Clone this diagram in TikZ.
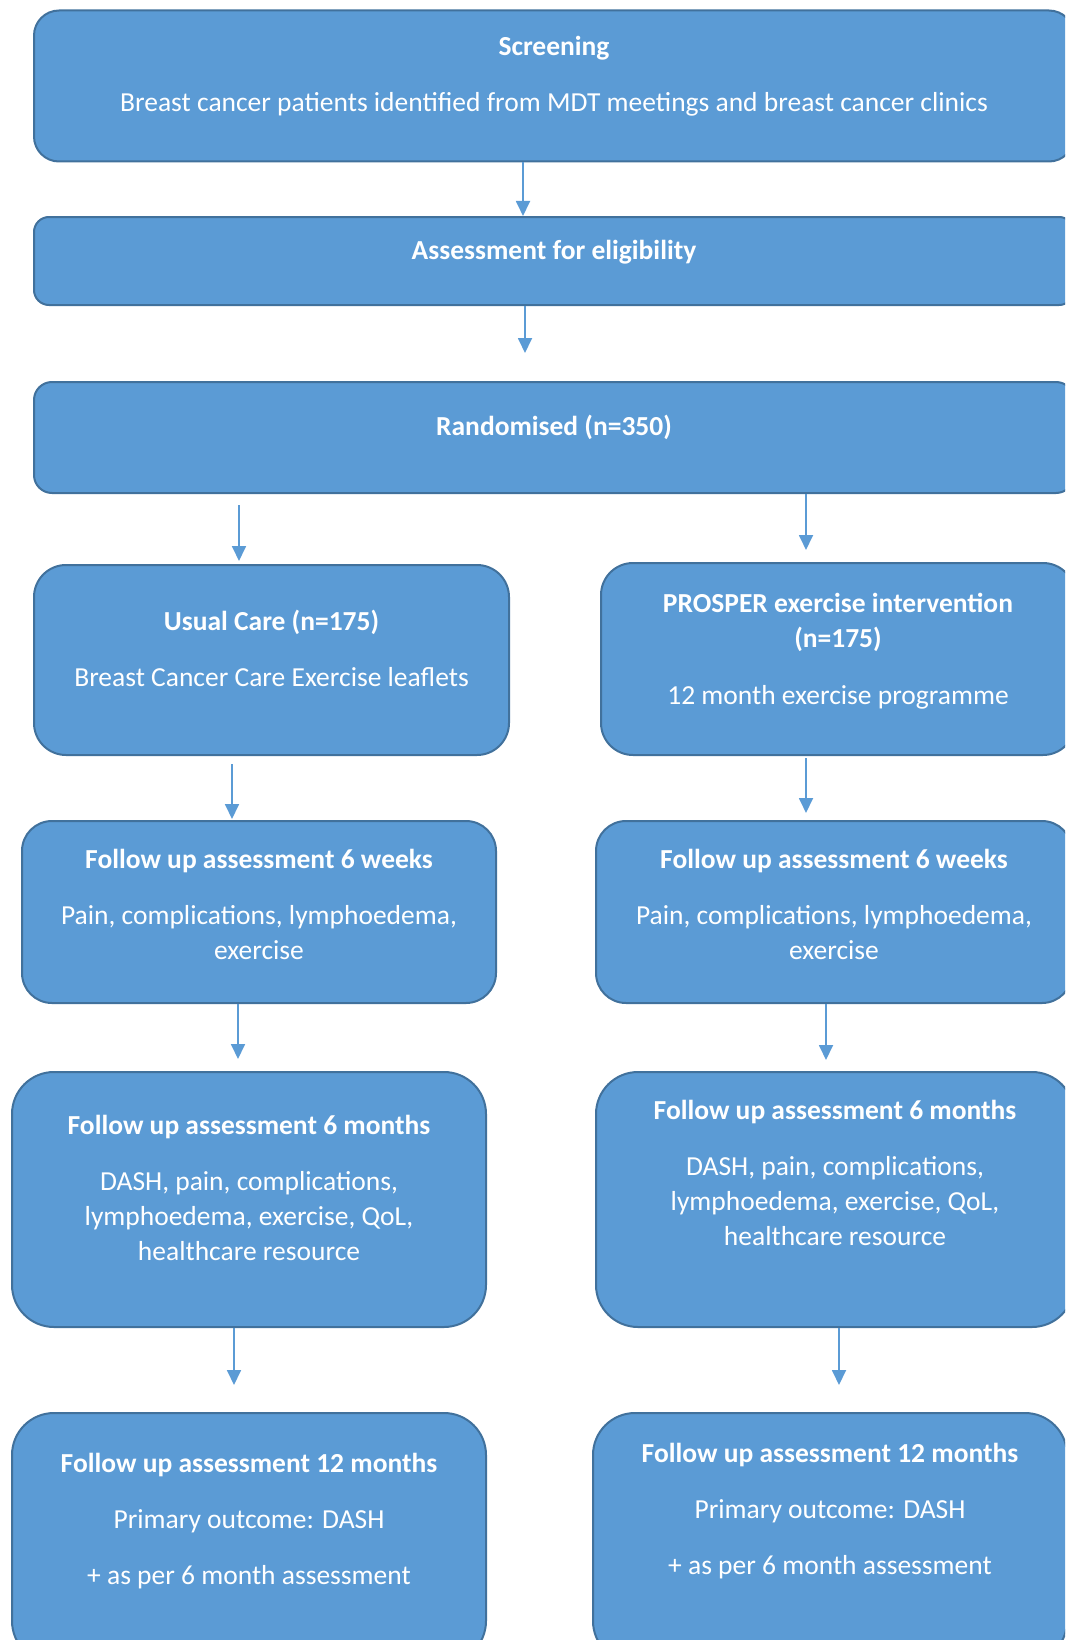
\documentclass[tikz,border=0pt]{standalone}
\usepackage{fontspec}
\setmainfont{Carlito}
\usetikzlibrary{arrows.meta}
\definecolor{boxfill}{HTML}{5B9BD5}
\definecolor{boxline}{HTML}{41719C}
\tikzset{box/.style={draw=boxline, fill=boxfill, line width=2pt, rounded corners=#1, inner sep=0pt},
  box/.default=30pt,
  txt/.style={text=white, align=center, inner sep=0pt, anchor=base, font=\fontsize{27.5}{35}\selectfont},
  arr/.style={draw=boxfill, line width=1.8pt, -{Triangle[length=15pt,width=14pt]}}}

\begin{document}
\begin{tikzpicture}[x=1pt,y=-1pt]
      \useasboundingbox (0,0) rectangle (1065,1640);
      \clip (0,0) rectangle (1065,1640);

      % boxes
      \node[box=25pt, minimum width=1040, minimum height=151] (scr) at (554,86) {};
      \node[box=15pt, minimum width=1040, minimum height=88] (elig) at (554,261) {};
      \node[box=18pt, minimum width=1040, minimum height=111] (rand) at (554,437.5) {};
      \node[box=32pt, minimum width=475, minimum height=190] (uc) at (271.5,660) {};
      \node[box=32pt, minimum width=474, minimum height=192] (px) at (838,659) {};
      \node[box, minimum width=474, minimum height=182] (w6l) at (259,912) {};
      \node[box, minimum width=476, minimum height=182] (w6r) at (834,912) {};
      \node[box=42pt, minimum width=474, minimum height=255] (m6l) at (249,1199.5) {};
      \node[box=42pt, minimum width=478, minimum height=255] (m6r) at (835,1199.5) {};
      \node[box=42pt, minimum width=474, minimum height=250] (m12l) at (249,1538) {};
      \node[box=42pt, minimum width=474, minimum height=250] (m12r) at (830,1538) {};

      % texts (base = last line)
      \node[txt] (scr-t) at (scr.center |- 0,112) {\textbf{Screening}\\[21pt]
        Breast cancer patients identified from MDT meetings and breast cancer clinics};
      \node[txt] (elig-t) at (elig.center |- 0,259) {\textbf{Assessment for eligibility}};
      \node[txt] (rand-t) at (rand.center |- 0,435) {\textbf{Randomised (n=350)}};
      \node[txt] (uc-t) at (uc.center |- 0,686) {\textbf{Usual Care (n=175)}\\[21pt]
        Breast Cancer Care Exercise leaflets};
      \node[txt] (px-t) at (px.center |- 0,704) {\textbf{PROSPER exercise intervention}\\
        \textbf{(n=175)}\\[22pt]12 month exercise programme};
      \node[txt] (w6l-t) at (w6l.center |- 0,959) {\textbf{Follow up assessment 6 weeks}\\[21pt]
        Pain, complications, lymphoedema,\\exercise};
      \node[txt] (w6r-t) at (w6r.center |- 0,959) {\textbf{Follow up assessment 6 weeks}\\[21pt]
        Pain, complications, lymphoedema,\\exercise};
      \node[txt] (m6l-t) at (m6l.center |- 0,1260) {\textbf{Follow up assessment 6 months}\\[21pt]
        DASH, pain, complications,\\lymphoedema, exercise, QoL,\\healthcare resource};
      \node[txt] (m6r-t) at (m6r.center |- 0,1245) {\textbf{Follow up assessment 6 months}\\[21pt]
        DASH, pain, complications,\\lymphoedema, exercise, QoL,\\healthcare resource};
      \node[txt] (m12l-t) at (m12l.center |- 0,1584) {\textbf{Follow up assessment 12 months}\\[21pt]
        Primary outcome: DASH\\[21pt]+ as per 6 month assessment};
      \node[txt] (m12r-t) at (m12r.center |- 0,1574) {\textbf{Follow up assessment 12 months}\\[21pt]
        Primary outcome: DASH\\[21pt]+ as per 6 month assessment};

      % arrows
      \draw[arr] (scr.south -| 523,0) -- (elig.north -| 523,0);
      \draw[arr, shorten >=28pt] (elig.south -| 525,0) -- (rand.north -| 525,0);
      \draw[arr, shorten <=11pt, shorten >=3pt] (rand.south -| 239,0) -- (uc.north -| 239,0);
      \draw[arr, shorten >=12pt] (rand.south -| 806,0) -- (px.north -| 806,0);
      \draw[arr, shorten <=8pt, shorten >=1pt] (uc.south -| 232,0) -- (w6l.north -| 232,0);
      \draw[arr, shorten <=2pt, shorten >=7pt] (px.south -| 806,0) -- (w6r.north -| 806,0);
      \draw[arr, shorten >=12pt] (w6l.south -| 238,0) -- (m6l.north -| 238,0);
      \draw[arr, shorten >=11pt] (w6r.south -| 826,0) -- (m6r.north -| 826,0);
      \draw[arr, shorten >=27pt] (m6l.south -| 234,0) -- (m12l.north -| 234,0);
      \draw[arr, shorten >=27pt] (m6r.south -| 839,0) -- (m12r.north -| 839,0);
    \end{tikzpicture}
\end{document}
